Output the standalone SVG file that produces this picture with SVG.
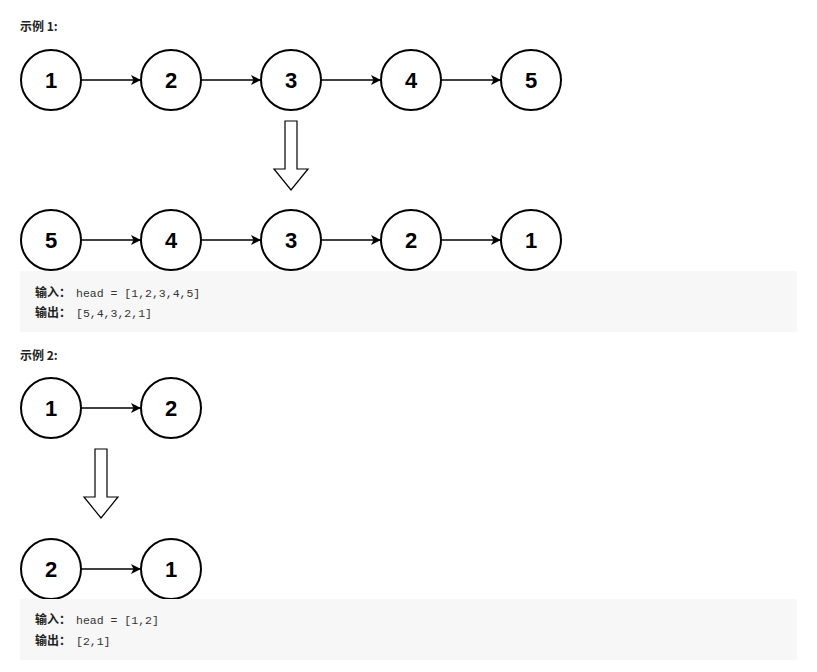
<svg xmlns="http://www.w3.org/2000/svg" width="817" height="672" viewBox="0 0 817 672">
<defs>
<style>
.n{fill:#fff;stroke:#000;stroke-width:2}
.t{font-family:"Liberation Sans",Arial,sans-serif;font-weight:bold;font-size:22px;text-anchor:middle;fill:#000}
.e{stroke:#000;stroke-width:1.5;fill:none;marker-end:url(#ah)}
.lbl{font-family:"Noto Sans CJK SC","Liberation Sans",sans-serif;font-weight:bold;font-size:12px;fill:#222}
.code{font-family:"Liberation Mono","DejaVu Sans Mono",monospace;font-size:11.5px;fill:#333}
.box{fill:#f7f7f7}
.big{fill:#fff;stroke:#000;stroke-width:1.2}
</style>
<marker id="ah" viewBox="0 0 10 10" refX="10" refY="5" markerWidth="10" markerHeight="10" markerUnits="userSpaceOnUse" orient="auto"><path d="M0,0 L10,5 L0,10 L2.5,5 Z" fill="#000"/></marker>
</defs>
<rect width="817" height="672" fill="#fff"/>
<text class="lbl" x="20" y="31">示例 1:</text>
<g id="connectors">
<line class="e" x1="81" y1="80" x2="141" y2="80"/>
<line class="e" x1="201" y1="80" x2="261" y2="80"/>
<line class="e" x1="321" y1="80" x2="381" y2="80"/>
<line class="e" x1="441" y1="80" x2="501" y2="80"/>
<line class="e" x1="81" y1="240" x2="141" y2="240"/>
<line class="e" x1="201" y1="240" x2="261" y2="240"/>
<line class="e" x1="321" y1="240" x2="381" y2="240"/>
<line class="e" x1="441" y1="240" x2="501" y2="240"/>
<line class="e" x1="81" y1="408" x2="141" y2="408"/>
<line class="e" x1="81" y1="569" x2="141" y2="569"/>
</g>
<g id="a1"><circle class="n" cx="51" cy="80" r="30"/><text class="t" x="51" y="88">1</text></g>
<g id="a2"><circle class="n" cx="171" cy="80" r="30"/><text class="t" x="171" y="88">2</text></g>
<g id="a3"><circle class="n" cx="291" cy="80" r="30"/><text class="t" x="291" y="88">3</text></g>
<g id="a4"><circle class="n" cx="411" cy="80" r="30"/><text class="t" x="411" y="88">4</text></g>
<g id="a5"><circle class="n" cx="531" cy="80" r="30"/><text class="t" x="531" y="88">5</text></g>
<g id="down1"><path class="big" d="M285,121 H297 V169 H308 L291,190 L274,169 H285 Z"/></g>
<g id="b5"><circle class="n" cx="51" cy="240" r="30"/><text class="t" x="51" y="248">5</text></g>
<g id="b4"><circle class="n" cx="171" cy="240" r="30"/><text class="t" x="171" y="248">4</text></g>
<g id="b3"><circle class="n" cx="291" cy="240" r="30"/><text class="t" x="291" y="248">3</text></g>
<g id="b2"><circle class="n" cx="411" cy="240" r="30"/><text class="t" x="411" y="248">2</text></g>
<g id="b1"><circle class="n" cx="531" cy="240" r="30"/><text class="t" x="531" y="248">1</text></g>
<rect class="box" x="20" y="271" width="777" height="61"/>
<text x="35" y="297"><tspan class="lbl">输入：</tspan><tspan class="code" dx="5">head = [1,2,3,4,5]</tspan></text>
<text x="35" y="317"><tspan class="lbl">输出：</tspan><tspan class="code" dx="5">[5,4,3,2,1]</tspan></text>
<text class="lbl" x="20" y="360">示例 2:</text>
<g id="c1"><circle class="n" cx="51" cy="408" r="30"/><text class="t" x="51" y="416">1</text></g>
<g id="c2"><circle class="n" cx="171" cy="408" r="30"/><text class="t" x="171" y="416">2</text></g>
<g id="down2"><path class="big" d="M95,449 H107 V497 H118 L101,518 L84,497 H95 Z"/></g>
<g id="d2"><circle class="n" cx="51" cy="569" r="30"/><text class="t" x="51" y="577">2</text></g>
<g id="d1"><circle class="n" cx="171" cy="569" r="30"/><text class="t" x="171" y="577">1</text></g>
<rect class="box" x="20" y="599" width="777" height="61"/>
<text x="35" y="624"><tspan class="lbl">输入：</tspan><tspan class="code" dx="5">head = [1,2]</tspan></text>
<text x="35" y="645"><tspan class="lbl">输出：</tspan><tspan class="code" dx="5">[2,1]</tspan></text>
</svg>
